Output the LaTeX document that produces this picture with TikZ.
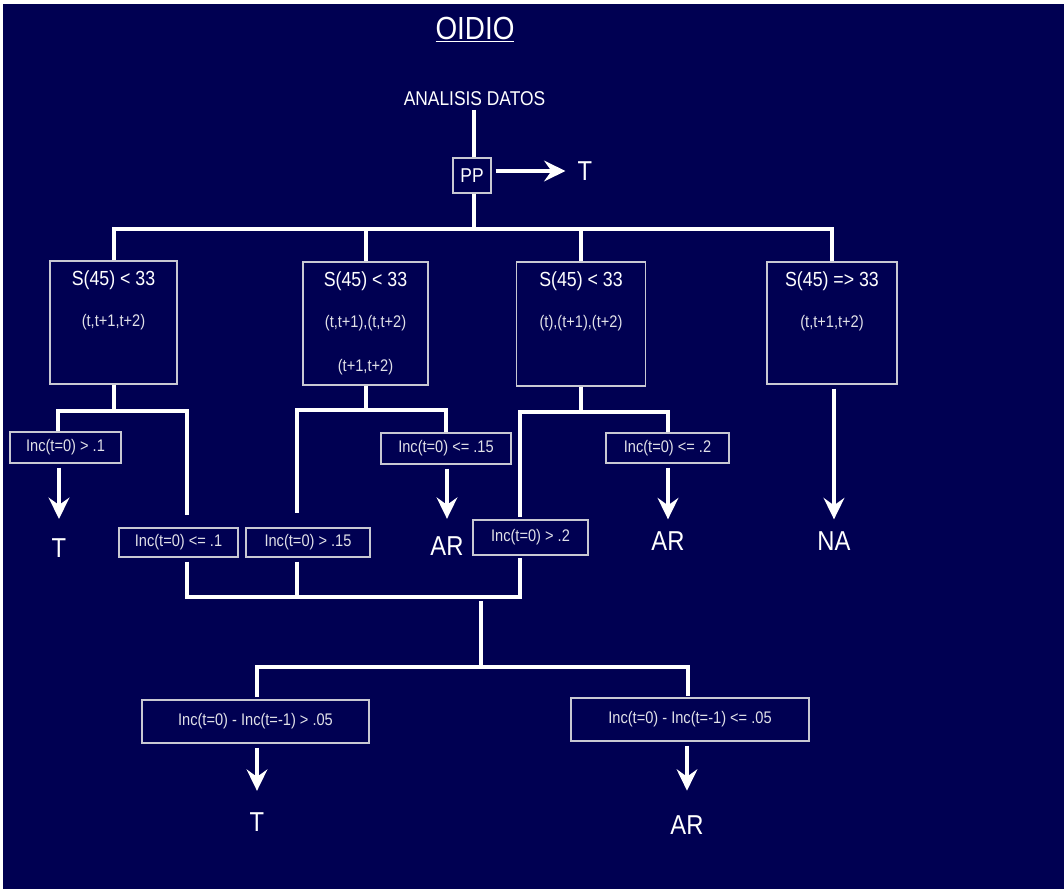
\documentclass[tikz,border=0pt]{standalone}
\usepackage{fontspec}
\setmainfont[FakeStretch=0.87]{Liberation Sans}
\usepackage{xcolor}
\usepackage{tikz}
\usetikzlibrary{arrows.meta}
\definecolor{navybg}{RGB}{0,0,82}
\definecolor{boxgray}{RGB}{200,200,210}
\definecolor{txtgray}{RGB}{225,225,232}
\tikzset{
  wire/.style={draw=white, line width=3pt},
  flow/.style={-{Stealth[length=16pt, width=15.5pt, inset=5.5pt]}, draw=white, line width=3pt, shorten <=3pt},
  sbox/.style={draw=boxgray, line width=0.9pt, inner sep=0pt},
  ibox/.style={draw=boxgray, line width=0.9pt, inner sep=0pt, text=txtgray, font=\fontsize{12.6}{14}\selectfont},
  shead/.style={text=white, font=\fontsize{15.3}{18}\selectfont, inner sep=0pt},
  ssub/.style={text=txtgray, font=\fontsize{12.6}{14}\selectfont, inner sep=0pt},
  outc/.style={text=white, font=\fontsize{20.5}{24}\selectfont, inner sep=0pt},
}
\begin{document}
\begin{tikzpicture}[x=0.75pt, y=-0.75pt]
\useasboundingbox (0,0) rectangle (1064,889);
\fill[white] (0,0) rectangle (1064,889);
\fill[navybg] (3,4) rectangle (1064,889);
\node[text=white, font=\fontsize{24}{28}\selectfont, anchor=base] (title) at (475,39) {\underline{OIDIO}};
\node[text=white, font=\fontsize{15}{18}\selectfont, anchor=base] (ad) at (474.5,105) {ANALISIS DATOS};
\node[sbox, text=white, font=\fontsize{15}{18}\selectfont, minimum width=28.5pt, minimum height=26.25pt] (pp) at (472,175.5) {PP};
\node[outc] (tpp) at (585,171) {T};
\coordinate (bar) at (474,229);
\node[sbox, minimum width=95.25pt, minimum height=92.25pt] (s1) at (113.5,322.5) {};
\node[sbox, minimum width=93.75pt, minimum height=92.25pt] (s2) at (365.5,323.5) {};
\node[sbox, minimum width=96.75pt, minimum height=93pt] (s3) at (581,324) {};
\node[sbox, minimum width=97.5pt, minimum height=91.5pt] (s4) at (832,323) {};
\node[shead] (s1h) at ([yshift=-15pt]s1.north) {S(45) < 33};
\node[ssub] (s1t) at ([yshift=-46.5pt]s1.north) {(t,t+1,t+2)};
\node[shead] (s2h) at ([yshift=-15pt]s2.north) {S(45) < 33};
\node[ssub] (s2t) at ([yshift=-46.5pt]s2.north) {(t,t+1),(t,t+2)};
\node[ssub] (s2u) at ([yshift=-79.5pt]s2.north) {(t+1,t+2)};
\node[shead] (s3h) at ([yshift=-15pt]s3.north) {S(45) < 33};
\node[ssub] (s3t) at ([yshift=-46.5pt]s3.north) {(t),(t+1),(t+2)};
\node[shead] (s4h) at ([yshift=-15pt]s4.north) {S(45) => 33};
\node[ssub] (s4t) at ([yshift=-46.5pt]s4.north) {(t,t+1,t+2)};
\coordinate (k1l) at (58,411);
\coordinate (k1r) at (187,411);
\coordinate (k2l) at (297,410);
\coordinate (k2r) at (446,410);
\coordinate (k3l) at (520,412);
\coordinate (k3r) at (668,412);
\node[ibox, minimum width=83.25pt, minimum height=23.25pt] (ia) at (65.5,447.5) {Inc(t=0) > .1};
\node[ibox, minimum width=89.25pt, minimum height=21.75pt] (ib) at (178.5,542.5) {Inc(t=0) <= .1};
\node[ibox, minimum width=93pt, minimum height=21.75pt] (ic) at (308,542.5) {Inc(t=0) > .15};
\node[ibox, minimum width=97.5pt, minimum height=23.25pt] (id) at (446,448.5) {Inc(t=0) <= .15};
\node[ibox, minimum width=92.25pt, minimum height=22.5pt] (ie) at (667.5,448) {Inc(t=0) <= .2};
\node[ibox, minimum width=86.25pt, minimum height=26.25pt] (if) at (530.5,537.5) {Inc(t=0) > .2};
\node[outc] (t1) at (59,548) {T};
\node[outc] (ar1) at (447,546.5) {AR};
\node[outc] (ar2) at (668,541) {AR};
\node[outc] (na) at (834,541) {NA};
\coordinate (m) at (481,597);
\coordinate (nl) at (257,667);
\coordinate (nr) at (688,667);
\node[ibox, minimum width=170.25pt, minimum height=32.25pt] (ja) at (255.5,721.5) {Inc(t=0) - Inc(t=-1) > .05};
\node[ibox, minimum width=178.5pt, minimum height=32.25pt] (jb) at (690,719.5) {Inc(t=0) - Inc(t=-1) <= .05};
\node[outc] (t3) at (257,822.5) {T};
\node[outc] (ar3) at (687,825) {AR};
\draw[wire] (ad.south -| bar) -- (pp.north -| bar);
\draw[wire] (pp.south -| bar) -- (bar);
\draw[flow, shorten >=9pt] (pp.east |- tpp) -- (tpp);
\draw[wire] (s1.north) -- (s1.north |- bar) -- (s4.north |- bar) -- (s4.north);
\draw[wire] (s2.north |- bar) -- (s2.north);
\draw[wire] (s3.north |- bar) -- (s3.north);
\draw[wire] (s1.south) -- (s1.south |- k1l);
\draw[wire, shorten >=9pt] (ia.north -| k1l) -- (k1l) -- (k1r) -- (ib.north -| k1r);
\draw[wire] (s2.south) -- (s2.south |- k2l);
\draw[wire, shorten >=11pt] (id.north -| k2r) -- (k2r) -- (k2l) -- (ic.north -| k2l);
\draw[wire] (s3.south) -- (s3.south |- k3l);
\draw[wire, shorten >=2pt] (ie.north -| k3r) -- (k3r) -- (k3l) -- (if.north -| k3l);
\draw[flow, shorten >=9pt] (na.north |- s4.south) -- (na);
\draw[flow, shorten >=14.5pt] (t1.north |- ia.south) -- (t1);
\draw[flow, shorten >=13.5pt] (ar1.north |- id.south) -- (ar1);
\draw[flow, shorten >=9pt] (ar2.north |- ie.south) -- (ar2);
\draw[wire, shorten <=3pt, shorten >=2pt] (ib.south -| k1r) -- (k1r |- m) -- (k3l |- m) -- (if.south -| k3l);
\draw[wire, shorten <=3pt] (ic.south -| k2l) -- (k2l |- m);
\draw[wire, shorten <=3pt] (m) -- (m |- nl);
\draw[wire, shorten <=2pt, shorten >=1pt] (ja.north -| nl) -- (nl) -- (nr) -- (jb.north -| nr);
\draw[flow, shorten >=16.5pt] (t3.north |- ja.south) -- (t3);
\draw[flow, shorten >=18.5pt] (ar3.north |- jb.south) -- (ar3);
\end{tikzpicture}
\end{document}
